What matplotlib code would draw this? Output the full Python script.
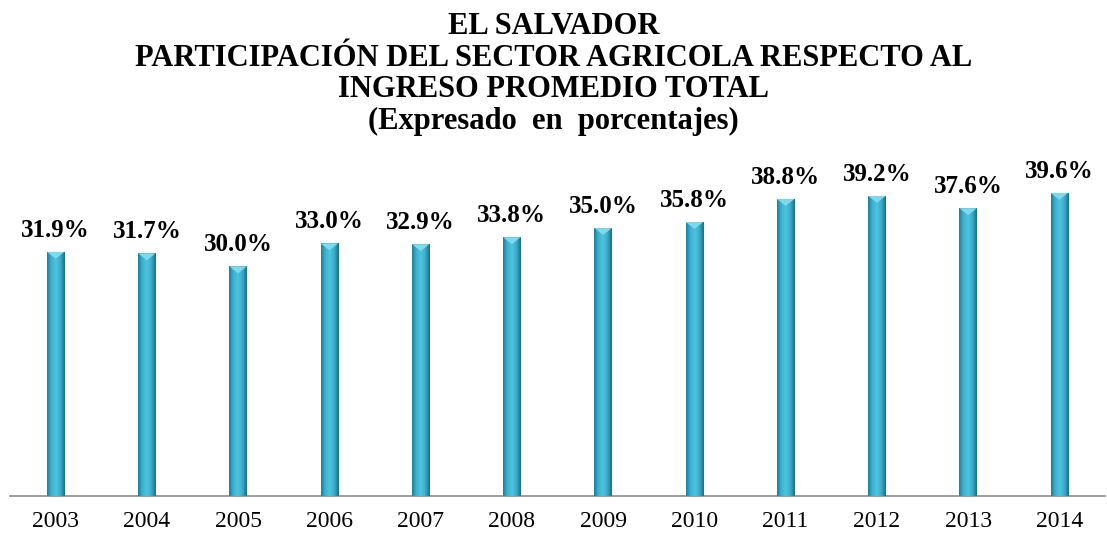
import numpy as np
import matplotlib
matplotlib.use("Agg")
from matplotlib import pyplot as plt
from matplotlib.colors import LinearSegmentedColormap
from matplotlib.patches import Polygon

# data
years = ["2003", "2004", "2005", "2006", "2007", "2008",
         "2009", "2010", "2011", "2012", "2013", "2014"]
shares = [31.9, 31.7, 30.0, 33.0, 32.9, 33.8, 35.0, 35.8, 38.8, 39.2, 37.6, 39.6]

title_lines = "EL SALVADOR\nPARTICIPACIÓN DEL SECTOR AGRICOLA RESPECTO AL\nINGRESO PROMEDIO TOTAL\n(Expresado  en  porcentajes)"

plt.rcParams['font.family'] = ['Liberation Serif', 'DejaVu Serif']

W, H = 1107, 539
fig = plt.figure(figsize=(W / 100, H / 100), dpi=100)
ax = fig.add_axes([10 / W, (H - 496) / H, 1095 / W, 326 / H])

x = np.arange(len(years))
bar_w = 0.19
bars = ax.bar(x, shares, width=bar_w, color="#36A9C8", zorder=2)

# cylinder-like shading: horizontal gradient drawn inside each bar
shade = LinearSegmentedColormap.from_list(
    "shade", ["#1F7E98", "#3DB4D2", "#4FC2DE", "#39ADCB", "#1A6E86"])
grad = np.linspace(0, 1, 64).reshape(1, -1)
for b in bars:
    x0, w, h = b.get_x(), b.get_width(), b.get_height()
    im = ax.imshow(grad, cmap=shade, aspect="auto", extent=(x0, x0 + w, 0, h),
                   zorder=3, interpolation="bilinear")
    im.set_clip_path(b)
    # lighter bevel on top
    cap = Polygon([(x0, h), (x0 + w, h), (x0 + w / 2, h - 0.9)],
                  closed=True, facecolor="#7FD8EC", edgecolor="none", zorder=4)
    ax.add_patch(cap)
    ax.annotate("{:.1f}%".format(h), (x0 + w / 2, h), xytext=(0, 11),
                textcoords="offset points", ha="center", va="baseline",
                fontsize=18, fontweight="bold", color="black")

ax.set_xlim(-0.5, len(years) - 0.5)
ax.set_ylim(0, 42.6)
ax.set_xticks(x)
ax.set_xticklabels(years, fontsize=17)
ax.tick_params(axis="x", length=0, pad=11)
ax.set_yticks([])
for side in ["top", "right", "left"]:
    ax.spines[side].set_visible(False)
ax.spines["bottom"].set_color("#8C8C8C")
ax.spines["bottom"].set_linewidth(1.2)

fig.text(0.5, 1 - 12 / H, title_lines, ha="center", va="top", fontsize=22,
         fontweight="bold", linespacing=1.12)

fig.savefig("out.png", dpi=100)
